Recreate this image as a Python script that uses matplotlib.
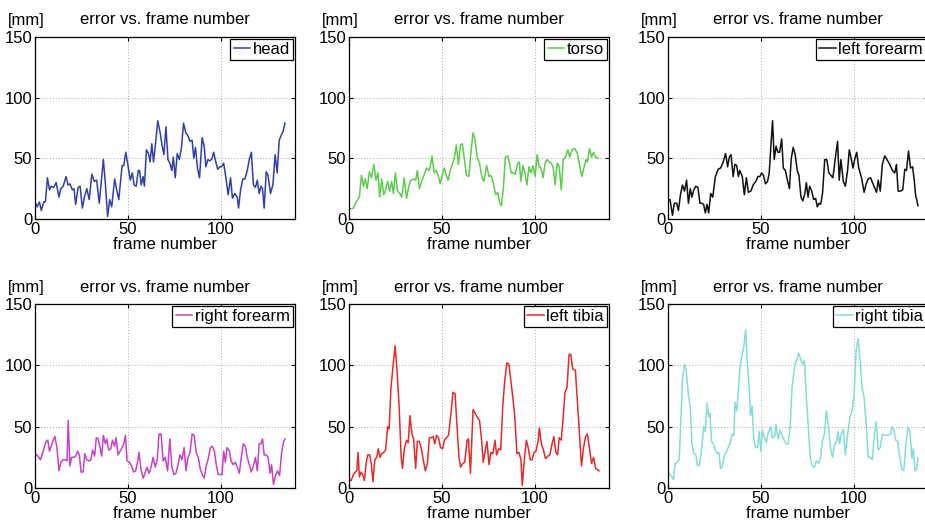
import matplotlib
matplotlib.use("Agg")
import matplotlib.pyplot as plt

plt.rcParams["font.family"] = ["Liberation Sans", "DejaVu Sans"]
plt.rcParams["font.size"] = 12

# ── data: (frame, error in mm) per body part ─────────────────────────────────
head_f = [0, 1.1, 2.4, 3.4, 4.7, 5.6, 6.7, 7.8, 8.7, 10.0, 11.4, 12.9, 13.9, 15.2, 16.7, 17.8, 18.8, 20.1,
          21.0, 21.9, 23.2, 24.3, 25.5, 26.6, 27.9, 29.2, 30.6, 31.9, 33.2, 34.6, 36.8, 37.9, 39.1, 40.2,
          41.3, 42.9, 44.0, 45.1, 46.9, 47.8, 48.9, 50.2, 51.3, 52.4, 53.4, 54.5, 55.6, 56.3, 57.2, 58.2,
          58.9, 60.0, 61.1, 62.0, 62.9, 63.8, 64.9, 66.1, 67.4, 68.5, 69.4, 70.5, 71.6, 72.6, 73.7, 74.5,
          75.5, 76.6, 77.7, 78.8, 80.0, 81.2, 82.2, 83.5, 84.6, 85.5, 86.4, 87.5, 88.6, 90.0, 91.1, 92.0,
          93.1, 94.0, 95.1, 96.2, 97.5, 98.4, 99.5, 100.5, 101.6, 102.7, 104.0, 105.3, 106.3, 107.6,
          108.9, 109.6, 110.7, 111.9, 113.0, 114.3, 115.4, 116.5, 117.6, 118.7, 119.7, 120.7, 121.7,
          122.5, 123.4, 124.5, 125.5, 126.8, 128.1, 129.3, 130.4, 131.5, 132.6, 133.5, 134.6]
head_v = [14, 10, 14, 7, 14, 14, 34, 24, 27, 26, 30, 18, 25, 27, 35, 28, 29, 24,
          25, 12, 26, 27, 9, 18, 25, 16, 37, 31, 32, 13, 49, 29, 2, 16,
          10, 33, 24, 16, 44, 44, 55, 43, 32, 38, 28, 27, 40, 40, 28, 35,
          27, 57, 54, 47, 62, 47, 62, 81, 71, 60, 53, 76, 49, 46, 40, 51,
          34, 54, 49, 58, 79, 71, 69, 64, 65, 50, 59, 42, 34, 67, 60, 43,
          49, 48, 49, 55, 46, 41, 43, 43, 46, 35, 20, 34, 17, 21,
          18, 9, 24, 33, 33, 40, 49, 55, 28, 26, 32, 21, 27,
          25, 9, 39, 36, 21, 28, 53, 38, 65, 69, 72, 79]

torso_f = [0, 2.4, 3.8, 5.6, 6.7, 7.8, 8.7, 9.8, 11.0, 12.1, 13.4, 14.5, 15.6, 16.5, 17.6, 18.7, 19.7,
           20.8, 21.9, 23.0, 23.9, 25.0, 26.1, 27.4, 28.4, 29.7, 31.0, 32.2, 33.3, 34.6, 35.9, 36.8,
           37.9, 39.1, 40.6, 41.8, 43.3, 44.7, 45.8, 46.9, 48.0, 49.1, 50.2, 51.3, 52.4, 53.4, 54.5,
           55.6, 56.7, 57.8, 58.9, 60.0, 61.0, 62.1, 63.2, 64.5, 65.8, 66.8, 67.9, 69.0, 70.3, 71.6,
           72.6, 74.1, 75.4, 76.4, 77.5, 79.0, 80.1, 81.2, 82.1, 83.2, 84.2, 85.5, 86.4, 87.3, 88.4,
           89.5, 90.8, 91.7, 92.6, 93.7, 94.7, 95.8, 96.9, 98.0, 99.1, 100.2, 101.3, 102.4, 103.4,
           104.5, 105.6, 106.7, 107.8, 108.9, 110.0, 111.0, 112.1, 113.2, 114.3, 115.4, 116.5, 117.9,
           118.8, 120.1, 121.6, 123.0, 124.3, 125.4, 126.6, 127.7, 128.4, 129.5, 130.6, 131.7, 132.8,
           134.2]
torso_v = [8, 9, 14, 18, 36, 27, 33, 25, 39, 34, 45, 32, 38, 18, 33, 20, 24,
           31, 23, 31, 21, 38, 23, 21, 18, 34, 17, 27, 32, 33, 32, 40,
           25, 31, 37, 42, 40, 52, 38, 40, 36, 29, 36, 42, 36, 32, 40,
           45, 50, 61, 45, 61, 62, 50, 36, 35, 57, 71, 65, 51, 46, 34,
           31, 44, 35, 36, 31, 20, 22, 13, 11, 27, 51, 52, 46, 38, 38,
           37, 46, 47, 31, 44, 38, 28, 43, 38, 44, 35, 53, 43, 42,
           34, 46, 49, 47, 46, 42, 28, 46, 43, 24, 49, 51, 57,
           51, 57, 58, 54, 43, 35, 43, 49, 47, 58, 51, 55, 51,
           50]

lfore_f = [0, 1.1, 2.4, 3.4, 4.7, 5.6, 6.7, 7.8, 8.9, 10.0, 11.0, 12.0, 12.9, 13.9, 15.0, 16.1, 17.2,
           18.3, 19.2, 20.1, 21.0, 21.9, 23.0, 24.1, 25.5, 27.0, 28.3, 29.5, 31.0, 32.1, 33.0, 33.9,
           35.1, 36.0, 37.0, 37.9, 38.6, 40.0, 41.1, 42.2, 43.3, 44.6, 45.8, 47.3, 48.4, 49.5, 50.4,
           51.4, 52.5, 53.6, 54.5, 55.4, 56.3, 57.2, 58.2, 59.2, 60.1, 61.2, 62.1, 63.2, 64.3, 65.4,
           66.3, 67.4, 68.5, 69.6, 70.5, 71.6, 72.6, 73.7, 74.5, 75.4, 76.3, 77.4, 78.4, 79.5, 80.4,
           81.3, 82.2, 83.2, 84.4, 85.5, 86.6, 87.7, 88.8, 90.0, 91.3, 92.2, 93.1, 94.4, 95.5, 96.7,
           97.6, 98.6, 99.6, 100.5, 101.6, 102.7, 104.2, 105.6, 106.7, 107.8, 109.1, 110.1, 111.2,
           112.3, 113.2, 114.3, 115.4, 116.7, 117.9, 119.4, 120.8, 122.1, 123.0, 123.9, 125.2, 126.4,
           127.5, 128.4, 129.5, 130.6, 131.7, 132.6, 133.3, 134.6]
lfore_v = [16, 16, 3, 13, 13, 7, 20, 28, 23, 32, 13, 25, 18, 24, 27, 26, 13,
           13, 12, 5, 12, 5, 21, 18, 35, 41, 42, 46, 54, 43, 51, 53,
           35, 45, 44, 35, 40, 35, 20, 34, 22, 23, 28, 31, 35, 35, 38,
           36, 29, 31, 38, 60, 81, 49, 60, 55, 55, 66, 42, 40, 32, 25,
           49, 59, 53, 40, 36, 18, 15, 21, 30, 18, 27, 23, 16, 17, 10,
           13, 12, 21, 49, 49, 38, 36, 34, 49, 64, 32, 49, 31, 27, 40,
           57, 50, 42, 49, 55, 42, 34, 22, 29, 33, 34, 30, 26,
           22, 32, 23, 45, 52, 49, 45, 40, 38, 45, 23, 23, 24,
           41, 40, 56, 42, 43, 32, 20, 11]

rfore_f = [0, 1.1, 2.0, 2.9, 3.8, 4.9, 6.0, 6.9, 7.8, 8.9, 9.8, 10.7, 11.8, 12.9, 13.9, 15.0, 16.5,
           17.2, 17.9, 18.8, 19.7, 20.8, 21.9, 23.0, 23.9, 24.8, 25.9, 26.8, 27.9, 29.0, 30.1, 31.0,
           32.1, 33.0, 34.1, 35.0, 35.9, 36.8, 37.9, 38.6, 39.7, 40.8, 41.7, 42.8, 43.7, 44.7, 45.8,
           46.9, 47.8, 48.7, 49.6, 50.9, 52.0, 53.1, 54.2, 55.3, 56.0, 57.2, 58.3, 59.4, 60.3, 61.4,
           62.5, 63.6, 64.7, 65.8, 66.8, 67.9, 69.0, 70.1, 71.4, 72.6, 73.7, 74.8, 75.9, 77.0, 78.1,
           79.2, 80.3, 81.3, 82.4, 83.5, 84.6, 85.7, 86.8, 87.9, 88.9, 90.0, 91.1, 92.2, 93.3, 94.4,
           95.5, 96.6, 97.6, 98.7, 99.8, 100.7, 101.6, 102.5, 103.4, 104.7, 105.6, 106.7, 107.8,
           108.9, 110.0, 111.1, 112.1, 113.2, 114.3, 115.4, 116.5, 117.6, 118.7, 119.7, 120.7, 121.6,
           122.5, 123.4, 124.5, 125.5, 126.6, 127.4, 128.4, 129.5, 130.6, 131.7, 132.8, 133.9, 134.6]
rfore_v = [26, 27, 25, 23, 27, 33, 38, 39, 30, 35, 39, 42, 33, 14, 21, 23, 23,
           22, 55, 18, 25, 25, 26, 30, 27, 13, 13, 28, 23, 22, 23, 31,
           26, 41, 40, 33, 26, 43, 36, 40, 31, 32, 39, 34, 41, 27, 30,
           33, 36, 43, 22, 21, 18, 13, 14, 22, 29, 14, 8, 13, 17, 12,
           17, 25, 17, 23, 44, 44, 22, 25, 14, 40, 17, 11, 12, 19, 27,
           23, 33, 14, 25, 29, 44, 43, 29, 25, 16, 11, 8, 18, 24, 33,
           34, 30, 19, 11, 11, 11, 30, 21, 33, 30, 22, 19, 21,
           17, 12, 25, 36, 34, 25, 19, 13, 18, 25, 14, 36, 36,
           40, 27, 27, 25, 12, 19, 3, 10, 14, 10, 29, 38, 40]

ltib_f = [0, 1.1, 2.4, 3.4, 4.2, 4.9, 5.6, 6.5, 7.4, 8.3, 9.2, 10.1, 11.1, 12.0, 12.9, 13.9, 14.9,
          15.8, 16.7, 17.6, 18.7, 19.7, 20.8, 21.6, 22.6, 23.7, 24.8, 25.9, 27.0, 28.1, 28.8, 29.9,
          31.0, 31.9, 32.8, 33.9, 34.8, 35.9, 36.8, 37.9, 39.1, 40.0, 41.1, 42.2, 43.3, 44.4, 45.3,
          46.2, 47.1, 48.2, 49.3, 50.4, 51.4, 52.5, 53.6, 54.9, 56.0, 57.1, 58.2, 59.2, 60.1, 61.2,
          62.3, 63.6, 64.3, 65.4, 66.8, 67.9, 69.0, 70.3, 71.4, 72.3, 73.4, 74.3, 75.4, 76.4, 77.5,
          78.6, 79.5, 80.6, 81.7, 82.8, 83.9, 85.0, 86.1, 87.1, 88.2, 89.3, 90.4, 91.5, 92.6, 93.3,
          94.4, 95.5, 96.6, 97.6, 98.6, 99.6, 100.7, 101.8, 102.5, 103.6, 104.7, 105.8, 107.1, 108.2,
          109.2, 110.3, 111.4, 112.3, 113.2, 114.3, 115.2, 116.3, 117.4, 118.5, 119.4, 120.5, 121.9,
          123.0, 124.1, 125.2, 126.3, 127.4, 128.4, 129.5, 130.6, 131.7, 132.8, 134.6]
ltib_v = [7, 6, 11, 13, 14, 29, 9, 13, 11, 6, 20, 27, 27, 20, 5, 23, 25,
          32, 25, 28, 29, 31, 50, 48, 82, 99, 116, 95, 66, 25, 16, 33,
          39, 37, 59, 44, 40, 16, 38, 38, 31, 23, 14, 20, 41, 41, 42,
          36, 43, 41, 33, 32, 39, 41, 43, 61, 78, 77, 50, 25, 17, 20,
          21, 39, 40, 12, 64, 61, 58, 55, 39, 21, 31, 38, 19, 29, 28,
          39, 27, 32, 31, 67, 88, 102, 101, 88, 74, 58, 28, 29, 23, 2,
          23, 39, 32, 23, 23, 29, 30, 38, 49, 36, 31, 24, 26, 27,
          35, 42, 29, 27, 41, 39, 55, 78, 82, 109, 109, 97, 96,
          70, 43, 18, 33, 42, 44, 32, 20, 25, 16, 14]

rtib_f = [0, 1.6, 2.9, 3.8, 4.9, 6.0, 6.7, 7.8, 8.9, 9.8, 11.0, 12.0, 12.9, 13.9, 15.0, 15.9, 17.0,
          18.1, 19.2, 20.1, 21.0, 21.9, 22.6, 23.4, 24.5, 25.5, 26.4, 27.4, 28.3, 29.2, 30.3, 31.3,
          32.4, 33.5, 34.6, 35.5, 36.1, 37.0, 37.9, 38.8, 39.7, 40.9, 41.8, 42.8, 43.7, 44.4, 45.3,
          46.2, 47.1, 48.2, 49.1, 50.0, 50.9, 51.8, 52.9, 54.0, 55.3, 56.3, 57.4, 58.2, 59.2, 60.3,
          61.4, 62.5, 63.6, 64.7, 65.8, 66.8, 68.3, 69.2, 70.3, 71.4, 72.5, 73.4, 74.5, 75.5, 76.6,
          77.7, 78.8, 79.9, 81.0, 82.1, 83.2, 84.2, 85.3, 86.4, 87.5, 88.6, 89.7, 90.8, 91.5, 92.4,
          93.3, 94.4, 95.5, 96.6, 98.0, 99.1, 100.2, 101.3, 102.3, 103.4, 104.5, 105.6, 106.7, 107.8,
          108.9, 110.0, 111.1, 112.1, 113.2, 114.3, 115.4, 116.5, 117.6, 118.7, 119.7, 120.8, 121.6,
          122.6, 123.7, 124.8, 126.0, 127.0, 128.1, 129.2, 130.3, 131.3, 132.1, 133.0, 133.9, 134.6]
rtib_v = [13, 10, 7, 20, 21, 23, 47, 88, 101, 96, 76, 66, 36, 28, 27, 18, 19,
          31, 50, 46, 69, 58, 61, 38, 36, 31, 28, 29, 16, 17, 27, 29,
          33, 37, 44, 43, 70, 63, 80, 99, 107, 116, 129, 101, 82, 59, 67,
          39, 33, 33, 46, 30, 47, 42, 37, 45, 50, 41, 42, 52, 40, 47,
          43, 39, 36, 36, 50, 82, 100, 104, 110, 105, 101, 104, 74, 50, 25,
          18, 17, 22, 20, 24, 39, 44, 63, 50, 33, 25, 35, 38, 46, 36,
          44, 48, 27, 42, 58, 63, 76, 112, 122, 104, 82, 74, 52, 25,
          25, 23, 43, 54, 31, 33, 44, 43, 43, 43, 44, 50, 48,
          39, 38, 25, 15, 14, 36, 50, 46, 24, 32, 14, 16, 25]

names  = ["head", "torso", "left forearm", "right forearm", "left tibia", "right tibia"]
colors = ["#3040a8", "#5ccc4c", "#111111", "#c444c4", "#e52a2a", "#86dcd6"]
frames = [head_f, torso_f, lfore_f, rfore_f, ltib_f, rtib_f]
errors = [head_v, torso_v, lfore_v, rfore_v, ltib_v, rtib_v]

# ── figure ───────────────────────────────────────────────────────────────────
W, H = 925, 524
fig = plt.figure(figsize=(W / 100, H / 100), dpi=100)
lefts = [35, 349, 668]
rows = [(37, 219), (304, 488)]

for i in range(6):
    r, c = divmod(i, 3)
    top, bot = rows[r]
    ax = fig.add_axes([lefts[c] / W, (H - bot) / H, 260 / W, (bot - top) / H])
    ax.plot(frames[i], errors[i], color=colors[i], lw=1.1, label=names[i])
    ax.set_xlim(0, 140); ax.set_ylim(0, 150)
    ax.set_xticks([0, 50, 100]); ax.set_yticks([0, 50, 100, 150])
    ax.grid(True, ls=(0, (1, 2)), color="#aaaaaa", lw=0.7)
    ax.tick_params(direction="in", top=True, right=True, length=3, width=0.8, pad=2, labelsize=12)
    for s in ax.spines.values():
        s.set_linewidth(0.9)
    ax.set_title("error vs. frame number", fontsize=12, pad=9)
    ax.set_xlabel("frame number", fontsize=12, labelpad=0)
    ax.text(-0.035, 1.066, "[mm]", transform=ax.transAxes, ha="center", va="baseline", fontsize=12)
    leg = ax.legend(loc="upper right", fontsize=12, handlelength=1.0, handletextpad=0.15,
                    borderpad=0.2, borderaxespad=0.1, fancybox=False, framealpha=1)
    leg.get_frame().set_edgecolor("black"); leg.get_frame().set_linewidth(0.9)

plt.savefig("out.png", dpi=100)
